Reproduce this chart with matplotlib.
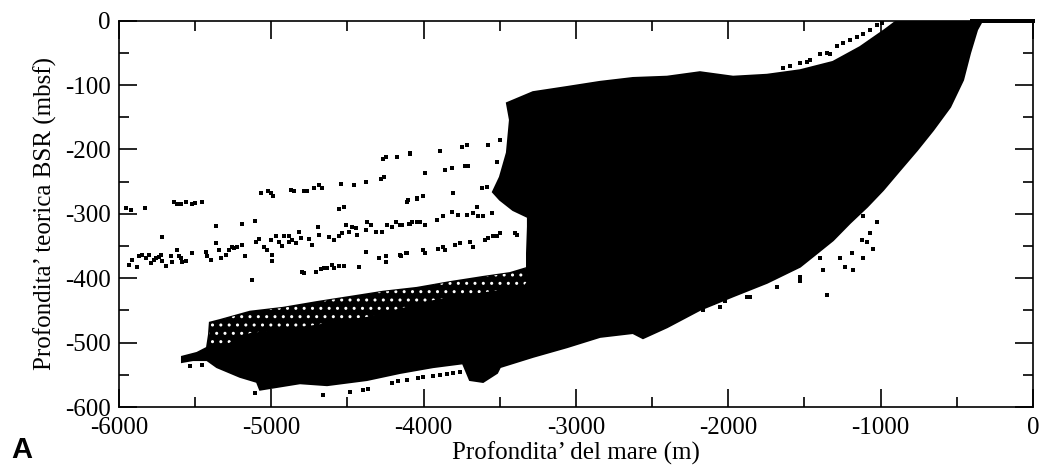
import matplotlib
matplotlib.use("Agg")
import matplotlib.pyplot as plt
from matplotlib.ticker import MultipleLocator

# Outline of the dense cloud of points (sea depth m, BSR depth mbsf)
cloud_x = [-5586, -5488, -5422, -5409, -5403, -5337, -5140, -4923, -4700, -4483,
           -4267, -4044, -3827, -3610, -3433, -3321, -3321, -3315, -3315, -3413,
           -3499, -3545, -3499, -3453, -3433, -3453, -3282, -3059, -2842, -2626,
           -2402, -2186, -1969, -1746, -1529, -1313, -1135, -971, -892, -334,
           -367, -413, -459, -544, -656, -761, -873, -984, -1089, -1201,
           -1313, -1418, -1529, -1746, -1969, -2186, -2402, -2560, -2626, -2842,
           -3059, -3282, -3499, -3518, -3610, -3696, -3742, -3939, -4155, -4372,
           -4634, -4812, -5074, -5094, -5206, -5357, -5422, -5514, -5586]
cloud_y = [-522, -516, -508, -488, -469, -465, -452, -446, -437, -429,
           -421, -415, -406, -398, -392, -384, -361, -320, -305, -294,
           -278, -266, -243, -205, -154, -128, -111, -103, -95, -89,
           -87, -80, -87, -84, -77, -64, -41, -14, 0, 0,
           -14, -50, -92, -134, -170, -201, -232, -263, -289, -314,
           -341, -361, -382, -407, -428, -449, -476, -493, -485, -491,
           -507, -522, -538, -547, -561, -558, -532, -538, -547, -558,
           -566, -563, -573, -561, -553, -538, -527, -527, -530]

# Sparser (speckled) band on top of the deep lobe
band_x = [-5403, -5337, -5140, -4923, -4700, -4483, -4267, -4044, -3827, -3610,
          -3433, -3321, -3321, -3348, -3499, -3939, -4372, -4812, -5140, -5337,
          -5405]
band_y = [-469, -465, -452, -446, -437, -429, -421, -415, -406, -398,
          -392, -384, -405, -413, -418, -434, -460, -476, -485, -507,
          -500]

# Isolated points, upper trend
up_x = [-5956, -5923, -5829, -5639, -5617, -5595, -5562, -5523, -5501, -5457,
        -5070, -5020, -5004, -4989, -4873, -4851, -4786, -4764, -4720, -4687,
        -4665, -4545, -4457, -4377, -4282, -4261, -4267, -4250, -4177, -4092,
        -4556, -4521, -4105, -4042, -4090, -3991, -3893, -3860, -3816, -3805,
        -3750, -3718, -3729, -3707, -3619, -3586, -3575, -3521, -3499, -4111,
        -4046, -4002]
up_y = [-291, -294, -291, -281, -284, -284, -281, -284, -283, -281,
        -267, -265, -268, -272, -263, -264, -264, -264, -260, -255,
        -260, -253, -255, -251, -246, -243, -214, -211, -211, -207,
        -293, -289, -278, -277, -206, -237, -202, -232, -229, -268,
        -196, -193, -225, -225, -260, -258, -193, -219, -185, -281,
        -276, -273]

# Isolated points, middle trend
mid_x = [-5934, -5912, -5880, -5869, -5847, -5825, -5803, -5792, -5770, -5759,
         -5737, -5727, -5716, -5694, -5661, -5650, -5617, -5606, -5595, -5584,
         -5562, -5519, -5720, -5431, -5420, -5398, -5365, -5365, -5344, -5333,
         -5300, -5278, -5256, -5245, -5223, -5190, -5173, -5195, -5107, -5103,
         -5081, -5048, -5026, -5004, -4994, -4994, -4972, -4950, -4928, -4917,
         -4884, -4884, -4862, -4840, -4818, -4808, -4753, -4731, -4687, -4696,
         -4622, -4589, -4556, -4534, -4512, -4490, -4468, -4447, -4436, -4381,
         -4370, -4348, -4315, -4272, -4239, -4206, -4184, -4140, -4096, -4075,
         -4042, -4381, -5125, -4155, -4090, -4024, -3991, -3915, -3871, -3816,
         -3772, -3718, -3674, -3652, -3641, -3608, -3553]
mid_y = [-379, -372, -382, -365, -364, -369, -364, -377, -372, -369,
         -367, -364, -373, -381, -366, -374, -356, -365, -369, -374,
         -373, -361, -336, -359, -365, -372, -319, -346, -356, -369,
         -364, -356, -352, -353, -352, -348, -365, -315, -311, -343,
         -339, -351, -356, -341, -364, -373, -335, -343, -350, -335,
         -335, -343, -341, -346, -328, -338, -339, -348, -333, -321,
         -336, -341, -335, -330, -317, -328, -320, -322, -333, -325,
         -312, -317, -328, -328, -317, -320, -312, -317, -315, -312,
         -312, -359, -403, -317, -315, -312, -317, -310, -304, -297,
         -302, -302, -299, -289, -304, -304, -298]

# Isolated points, lower trend
low_x = [-4797, -4786, -4709, -4676, -4654, -4633, -4600, -4589, -4556, -4523,
         -4425, -4293, -4250, -4250, -4151, -4114, -4155, -4111, -4002, -3991,
         -3904, -3871, -3860, -3794, -3761, -3696, -3674, -3597, -3575, -3543,
         -3521, -3499, -3400, -3389]
low_y = [-390, -392, -390, -386, -384, -384, -379, -384, -381, -381,
         -382, -369, -366, -374, -365, -361, -364, -361, -356, -361,
         -354, -351, -356, -348, -346, -343, -351, -341, -338, -335,
         -335, -330, -330, -333]

# Isolated points below the cloud
bot_x = [-5534, -5457, -5107, -4659, -4484, -4396, -4363, -4210, -4166, -4112,
         -4035, -4002, -3937, -3893, -3849, -3805, -3762, -2230, -2164, -2099,
         -2055, -2022, -1877, -1857, -1682, -1529, -1529, -1398, -1376, -1354,
         -1267, -1234, -1190, -1179, -1125, -1114, -1114, -1092, -1070, -1048,
         -1026]
bot_y = [-537, -535, -578, -581, -576, -574, -572, -563, -560, -558,
         -555, -553, -552, -550, -549, -547, -545, -444, -449, -439,
         -444, -436, -429, -429, -413, -398, -405, -369, -387, -426,
         -369, -382, -361, -387, -341, -304, -369, -343, -330, -354,
         -312]

# Outer arc near the surface
arc_x = [-1639, -1595, -1529, -1486, -1464, -1398, -1354, -1332, -1289, -1245,
         -1201, -1157, -1114, -1070, -1026, -993, -1157, -1092, -1026, -960,
         -917, -873]
arc_y = [-74, -71, -66, -64, -61, -51, -50, -51, -40, -35,
         -30, -25, -20, -15, -7, -3, -56, -46, -38, -25,
         -17, -9]

# Points with no BSR (depth 0)
zero_x = [-400, -380, -360, -340, -320, -300, -280, -260, -240, -220, -200,
          -180, -160, -140, -120, -100, -80, -60, -40, -20, 0]
zero_y = [0] * len(zero_x)

plt.rcParams['font.family'] = ['Liberation Serif', 'DejaVu Serif']
plt.rcParams['axes.unicode_minus'] = False
plt.rcParams['hatch.linewidth'] = 1.0

fig = plt.figure(figsize=(10.49, 4.68), dpi=100)
ax = fig.add_axes([0.1134, 0.1303, 0.8713, 0.8254])

ax.fill(cloud_x, cloud_y, color='black', lw=1.5, zorder=2)
ax.fill(band_x, band_y, facecolor='black', edgecolor='white', hatch='..',
        lw=0, zorder=2.5)
for xs, ys in [(up_x, up_y), (mid_x, mid_y), (low_x, low_y),
               (bot_x, bot_y), (arc_x, arc_y)]:
    ax.plot(xs, ys, ls='none', marker='s', ms=2.2, color='black',
            mew=0, zorder=3)
ax.plot(zero_x, zero_y, ls='none', marker='s', ms=3.0, color='black',
        mew=0, zorder=3, clip_on=False)

ax.set_xlim(-6000, 0)
ax.set_ylim(-600, 0)
ax.xaxis.set_major_locator(MultipleLocator(1000))
ax.xaxis.set_minor_locator(MultipleLocator(500))
ax.yaxis.set_major_locator(MultipleLocator(100))
ax.yaxis.set_minor_locator(MultipleLocator(50))
ax.tick_params(which='both', direction='in', top=True, right=True, width=1.2)
ax.tick_params(which='major', length=13, labelsize=18)
ax.tick_params(which='minor', length=7)
ax.tick_params(axis='x', which='major', pad=7)
ax.tick_params(axis='y', which='major', pad=6)
for s in ax.spines.values():
    s.set_linewidth(1.2)

ax.set_xlabel("Profondita\u2019 del mare (m)", fontsize=18, labelpad=2)
ax.set_ylabel("Profondita\u2019 teorica BSR (mbsf)", fontsize=18, labelpad=6)

fig.text(0.011, 0.008, "A", fontsize=21, fontweight='bold',
         family='Liberation Sans', ha='left', va='bottom')

fig.savefig("out.png", dpi=100, facecolor='white')
